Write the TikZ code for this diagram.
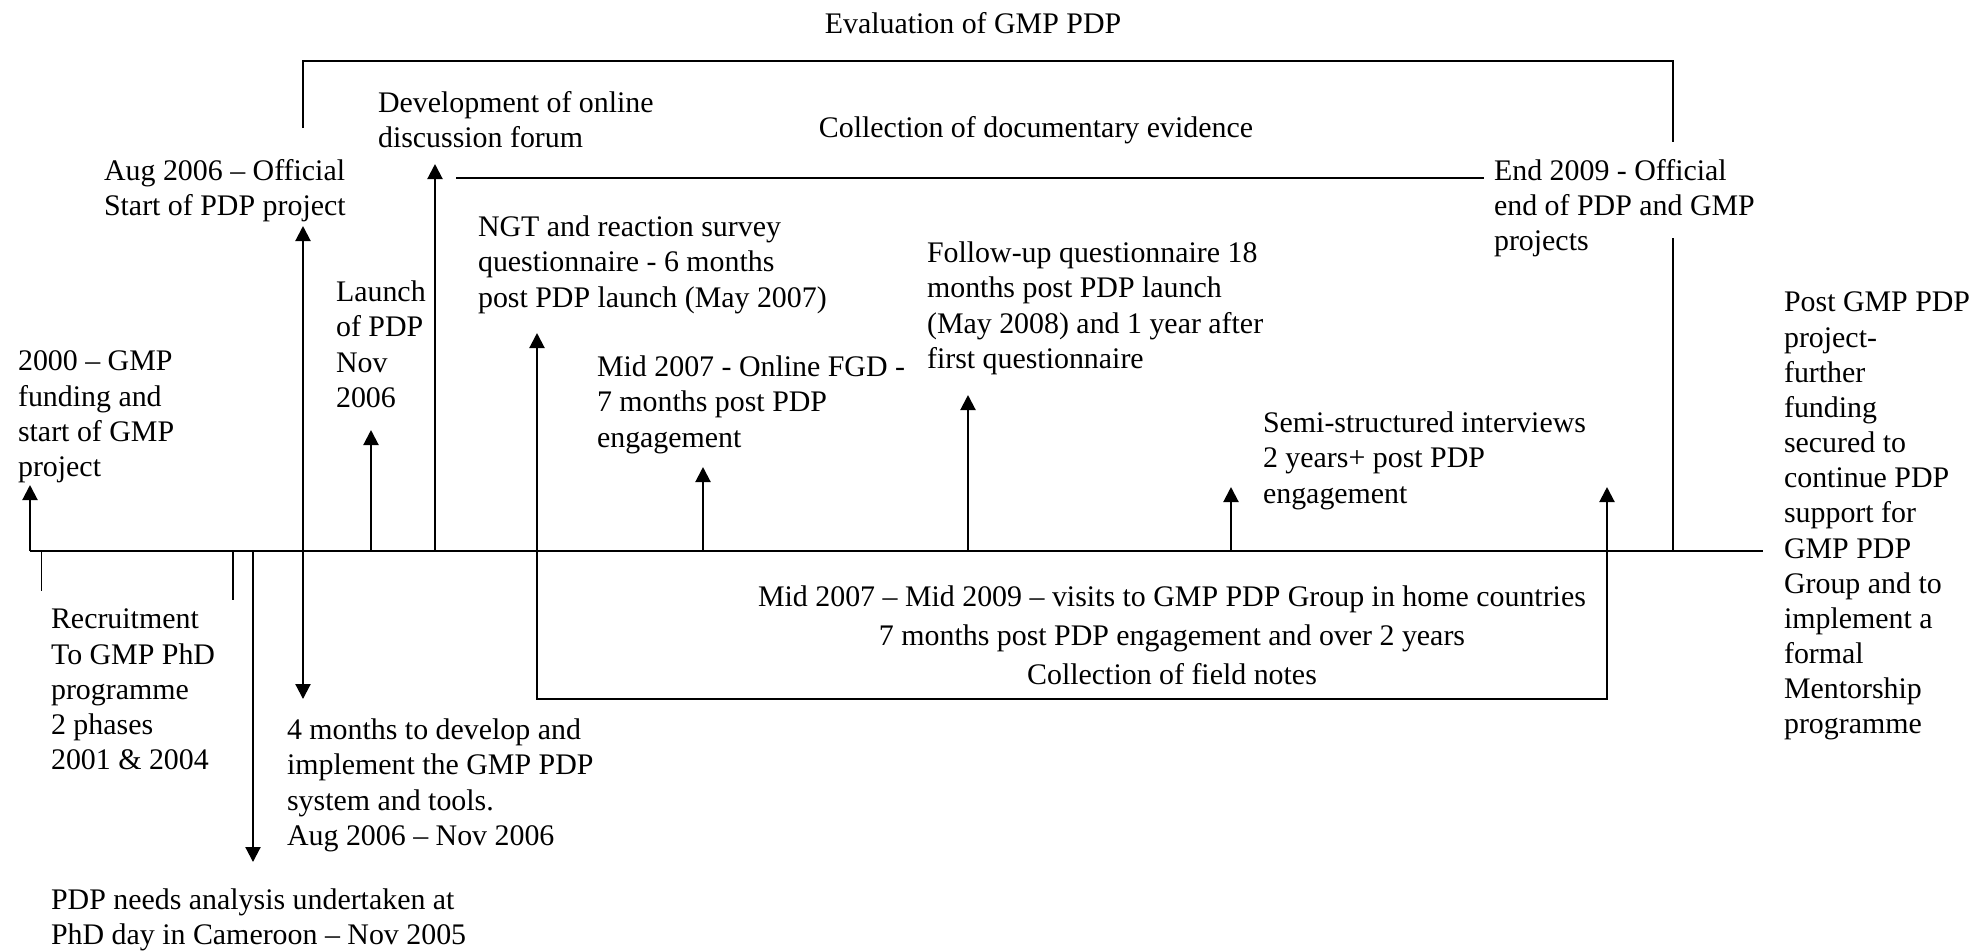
\documentclass[tikz,border=0pt]{standalone}
\usepackage{fontspec}
\setmainfont{Liberation Serif}
\usetikzlibrary{arrows.meta}

\begin{document}
\begin{tikzpicture}[
  x=0.01cm, y=-0.01cm,
  >={Triangle[length=0.15cm,width=0.15cm]},
  line width=0.6pt,
  txt/.style={inner sep=0,align=left,anchor=north west,font=\fontsize{8.5}{10}\selectfont},
  ctxt/.style={txt,align=center,anchor=center},
  tick/.style={line width=0.4pt}
  ]
  \useasboundingbox (0,0) rectangle (1987,950);

  % points on the time line
  \coordinate (t0) at (30,551);
  \coordinate (rec1) at (41.5,551);
  \coordinate (rec2) at (233,551);
  \coordinate (need) at (253,551);
  \coordinate (aug) at (303,551);
  \coordinate (lau) at (371,551);
  \coordinate (dev) at (435,551);
  \coordinate (ngt) at (537,551);
  \coordinate (fgd) at (703,551);
  \coordinate (fol) at (968,551);
  \coordinate (ssi) at (1231,551);
  \coordinate (vis) at (1607,551);
  \coordinate (end) at (1673,551);
  \coordinate (t1) at (1763,551);

  % texts
  \node [ctxt] (evaluation) at (973,23) {Evaluation of GMP PDP};
  \node [ctxt] (documents) at (1036,130) {Collection of documentary evidence};
  \node [txt] (forum) at (377,90) {Development of online\\discussion forum};
  \node [txt] (official) at (103,158) {Aug 2006 -- Official\\Start of PDP project};
  \node [txt] (survey) at (477,215) {NGT and reaction survey\\questionnaire - 6 months\\post PDP launch (May 2007)};
  \node [txt] (launch) at (335,280) {Launch\\of PDP\\Nov\\2006};
  \node [txt] (funding) at (17,350) {2000 -- GMP\\funding and\\start of GMP\\project};
  \node [txt] (onlinefgd) at (596,355) {Mid 2007 - Online FGD -\\7 months post PDP\\engagement};
  \node [txt] (followup) at (926,241) {Follow-up questionnaire 18\\months post PDP launch\\(May 2008) and 1 year after\\first questionnaire};
  \node [txt] (interviews) at (1262,411) {Semi-structured interviews\\2 years+ post PDP\\engagement};
  \node [txt] (official end) at (1493,158) {End 2009 - Official\\end of PDP and GMP\\projects};
  \node [txt] (post) at (1783,291) {Post GMP PDP\\project-\\further\\funding\\secured to\\continue PDP\\support for\\GMP PDP\\Group and to\\implement a\\formal\\Mentorship\\programme};
  \node [txt] (recruitment) at (50,608) {Recruitment\\To GMP PhD\\programme\\2 phases\\2001 \& 2004};
  \node [txt] (develop) at (286,718) {4 months to develop and\\implement the GMP PDP\\system and tools.\\Aug 2006 -- Nov 2006};
  \node [txt] (needs) at (50,888) {PDP needs analysis undertaken at\\PhD day in Cameroon -- Nov 2005};
  \node [txt,align=center,anchor=north,font=\fontsize{8.5}{11}\selectfont] (visits) at (1172,585)
    {Mid 2007 -- Mid 2009 -- visits to GMP PDP Group in home countries\\7 months post PDP engagement and over 2 years\\Collection of field notes};

  % brackets
  \coordinate (evalL) at (303,128);
  \coordinate (evalR) at (1673,142);
  \coordinate (endtop) at (1673,238);
  \draw (evalL) |- (1673,61) -- (evalR);
  \draw (endtop) -- (end);
  \coordinate (docL) at (456,178);
  \coordinate (docR) at (1484,178);
  \draw (docL) -- (docR);

  % time line
  \draw (t0) -- (t1);
  \draw[tick] (rec1) -- ++(0,40);
  \draw[tick] (rec2) -- ++(0,49);

  % arrows
  \draw[->] (t0) -- (30,485);
  \draw[->] (lau) -- (371,430);
  \draw[->] (dev) -- (435,164);
  \draw[->] (ngt) -- (537,333);
  \draw[->] (fgd) -- (703,467);
  \draw[->] (fol) -- (968,395);
  \draw[->] (ssi) -- (1231,487);
  \draw[<->] (303,226) -- (303,699);
  \draw[->] (need) -- (253,862);
  \draw[->] (ngt) -- (537,699) -- (1607,699) -- (1607,487);

\end{tikzpicture}
\end{document}
